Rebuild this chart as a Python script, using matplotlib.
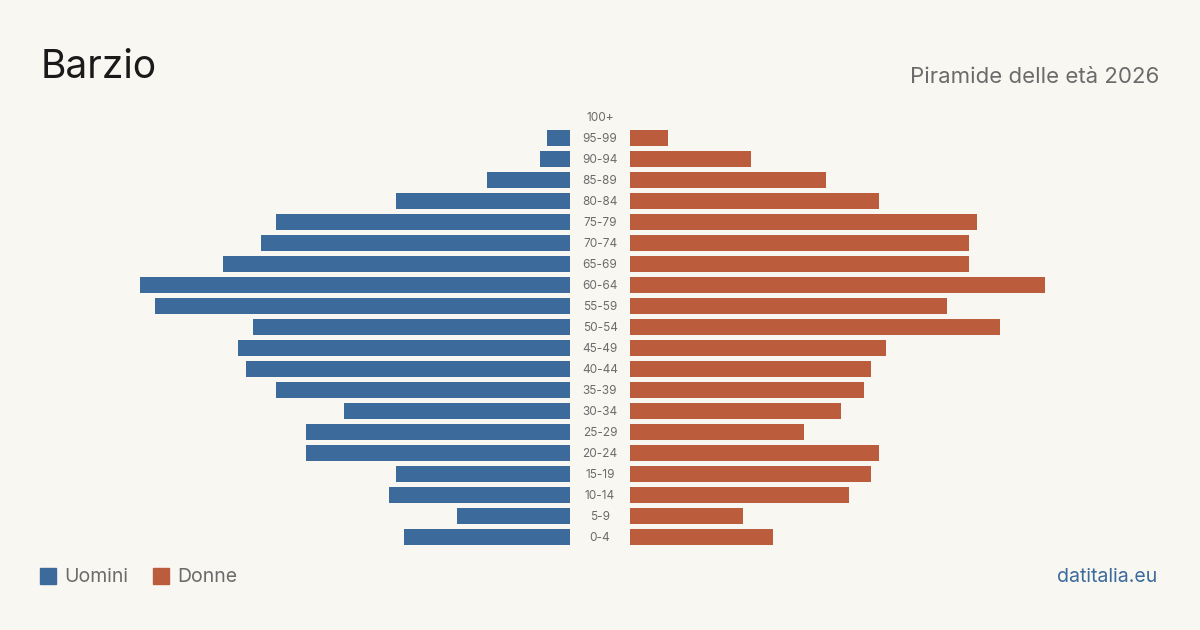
import matplotlib.pyplot as plt
from matplotlib.patches import Rectangle

plt.rcParams['font.family'] = ['Inter', 'DejaVu Sans']

age_groups = ["0-4", "5-9", "10-14", "15-19", "20-24", "25-29", "30-34",
              "35-39", "40-44", "45-49", "50-54", "55-59", "60-64", "65-69",
              "70-74", "75-79", "80-84", "85-89", "90-94", "95-99", "100+"]
men = [22, 15, 24, 23, 35, 35, 30, 39, 43, 44, 42, 55, 57, 46, 41, 39, 23, 11, 4, 3, 0]
women = [19, 15, 29, 32, 33, 23, 28, 31, 32, 34, 49, 42, 55, 45, 45, 46, 33, 26, 16, 5, 0]

BLUE = "#3b6a9b"
RED = "#bb5d3d"
BG = "#f9f7f2"
GREY = "#6b6b6b"

W, H = 1200, 630
fig = plt.figure(figsize=(12, 6.3), dpi=100, facecolor=BG)

xmax = 57
y0, y1 = 547.5, 106.5  # pixel top/bottom of the plot rows
ax_l = fig.add_axes([140 / W, 1 - y0 / H, 430 / W, (y0 - y1) / H])
ax_r = fig.add_axes([630 / W, 1 - y0 / H, 430 / W, (y0 - y1) / H])

ypos = list(range(len(age_groups)))
ax_l.barh(ypos, men, height=0.8, color=BLUE)
ax_r.barh(ypos, women, height=0.8, color=RED)
ax_l.set_xlim(xmax, 0)
ax_r.set_xlim(0, xmax)
for ax in (ax_l, ax_r):
    ax.set_ylim(-0.5, len(age_groups) - 0.5)
    ax.axis("off")

# age labels in the gap
for i, lab in enumerate(age_groups):
    fig.text(600 / W, 1 - (538 - i * 21) / H, lab, ha="center", va="center",
             fontsize=8.5, color=GREY)

fig.text(41 / W, 1 - 67 / H, "Barzio", fontsize=28, color="#1a1a1a",
         ha="left", va="center")
fig.text(1159 / W, 1 - 77 / H, "Piramide delle età 2026", fontsize=16,
         color=GREY, ha="right", va="center")

# legend
fig.patches.append(Rectangle((40 / W, 1 - 584 / H), 16 / W, 16 / H,
                             transform=fig.transFigure, color=BLUE))
fig.text(64 / W, 1 - 577 / H, "Uomini", fontsize=14, color=GREY,
         ha="left", va="center")
fig.patches.append(Rectangle((153 / W, 1 - 584 / H), 16 / W, 16 / H,
                             transform=fig.transFigure, color=RED))
fig.text(177 / W, 1 - 577 / H, "Donne", fontsize=14, color=GREY,
         ha="left", va="center")

fig.text(1157 / W, 1 - 577 / H, "datitalia.eu", fontsize=14, color=BLUE,
         ha="right", va="center")

fig.savefig("out.png", dpi=100, facecolor=BG)
